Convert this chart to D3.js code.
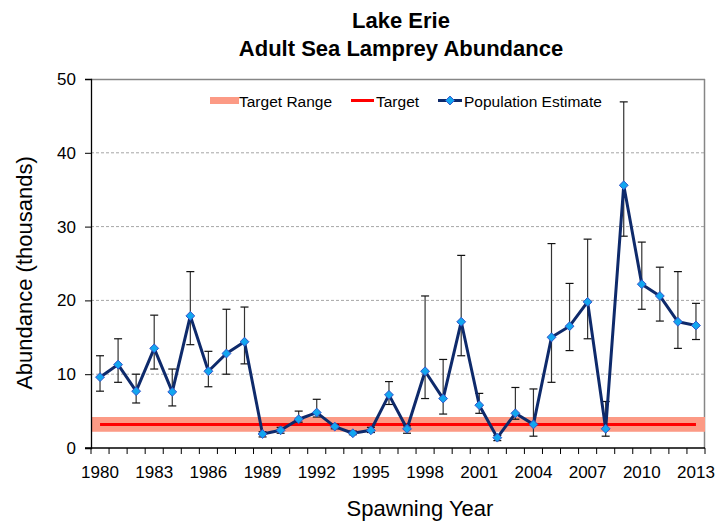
<!DOCTYPE html>
<html>
<head>
<meta charset="utf-8">
<script src="https://cdn.jsdelivr.net/npm/d3@7"></script>
<style>
  html, body { margin: 0; padding: 0; background: #fff; }
  svg { display: block; font-family: "Liberation Sans", Arial, sans-serif; }
</style>
</head>
<body>
<svg id="chart" width="717" height="522"></svg>
<script>
// ---- data ----
const years = [1980,1981,1982,1983,1984,1985,1986,1987,1988,1989,1990,1991,1992,1993,1994,1995,1996,1997,1998,1999,2000,2001,2002,2003,2004,2005,2006,2007,2008,2009,2010,2011,2012,2013];
const estimate = [9.6,11.3,7.7,13.5,7.6,17.9,10.4,12.8,14.4,1.9,2.4,3.9,4.8,2.9,2.0,2.4,7.2,2.6,10.4,6.7,17.1,5.8,1.4,4.7,3.2,15.0,16.5,19.8,2.6,35.6,22.2,20.6,17.1,16.6];
const upper = [12.5,14.8,10.0,18.0,10.7,23.9,13.1,18.8,19.1,2.2,2.8,5.0,6.6,3.2,2.3,2.8,9.0,3.0,20.6,12.0,26.1,7.4,1.7,8.2,8.0,27.7,22.3,28.3,6.3,46.9,27.9,24.5,23.9,19.6];
const lower = [7.7,8.9,6.1,10.7,5.7,14.0,8.3,10.0,11.4,1.5,2.0,3.5,4.2,2.6,1.8,2.1,5.9,2.0,6.7,4.6,12.5,4.7,1.0,3.9,1.6,8.9,13.2,14.8,1.6,28.7,18.8,17.2,13.5,14.7];
const target = 3.2;
const targetRange = [2.2, 4.2];
const yTicks = [0,10,20,30,40,50];
const xTickLabels = [1980,1983,1986,1989,1992,1995,1998,2001,2004,2007,2010,2013];
const titleLines = ["Lake Erie", "Adult Sea Lamprey Abundance"];
const legendItems = ["Target Range", "Target", "Population Estimate"];

// ---- layout ----
const svg = d3.select("#chart");
const L = 91, R = 705, T = 79, B = 448;

const x = d3.scaleBand().domain(years).range([L, R]).paddingInner(0).paddingOuter(0);
const cx = d => x(d) + x.bandwidth() / 2;
const y = d3.scaleLinear().domain([0, 50]).range([B, T]);

// gridlines
svg.append("g").selectAll("line").data(yTicks.filter(v => v > 0 && v < 50)).join("line")
  .attr("x1", L).attr("x2", R).attr("y1", d => y(d)).attr("y2", d => y(d))
  .attr("stroke", "#a6a6a6").attr("stroke-width", 1).attr("stroke-dasharray", "3,2");

// top & right border
svg.append("line").attr("x1", L).attr("x2", R).attr("y1", y(50)+0.5).attr("y2", y(50)+0.5)
  .attr("stroke", "#868686").attr("stroke-width", 1.5);
svg.append("line").attr("x1", R-0.5).attr("x2", R-0.5).attr("y1", T).attr("y2", B)
  .attr("stroke", "#868686").attr("stroke-width", 1.5);

// target range band
svg.append("rect").attr("x", L).attr("width", R - L)
  .attr("y", y(targetRange[1])).attr("height", y(targetRange[0]) - y(targetRange[1]))
  .attr("fill", "#fc9a85");

// target line
svg.append("line").attr("x1", cx(years[0])).attr("x2", cx(years[years.length-1]))
  .attr("y1", y(target)).attr("y2", y(target))
  .attr("stroke", "#ff0000").attr("stroke-width", 3);

// axes
const yAxis = d3.axisLeft(y).tickValues(yTicks).tickSize(6).tickPadding(9).tickFormat(d3.format("d"));
const gy = svg.append("g").attr("transform", `translate(${L},0)`).call(yAxis);
gy.select(".domain").attr("stroke", "#000").attr("stroke-width", 1.3);
gy.selectAll(".tick line").attr("stroke", "#000");
gy.selectAll(".tick text").attr("font-size", 17).attr("fill", "#000")
  .attr("font-family", "Liberation Sans, Arial, sans-serif");

const boundaries = years.map(d => x(d)).concat([R]);
const gx = svg.append("g");
gx.append("line").attr("x1", L - 6).attr("x2", R).attr("y1", B).attr("y2", B)
  .attr("stroke", "#000").attr("stroke-width", 1.3);
gx.selectAll("line.tk").data(boundaries).join("line").attr("class", "tk")
  .attr("x1", d => d).attr("x2", d => d).attr("y1", B).attr("y2", B + 6)
  .attr("stroke", "#000").attr("stroke-width", 1);
gx.selectAll("text").data(xTickLabels).join("text")
  .attr("x", d => cx(d)).attr("y", 478).attr("text-anchor", "middle")
  .attr("font-size", 17).attr("fill", "#000").text(d => d);

// error bars
const eb = svg.append("g").attr("stroke", "#111").attr("stroke-width", 1.2);
years.forEach((yr, i) => {
  const xx = cx(yr);
  eb.append("line").attr("x1", xx).attr("x2", xx).attr("y1", y(upper[i])).attr("y2", y(lower[i])).attr("stroke", "#333");
  eb.append("line").attr("x1", xx-4).attr("x2", xx+4).attr("y1", y(upper[i])).attr("y2", y(upper[i]));
  eb.append("line").attr("x1", xx-4).attr("x2", xx+4).attr("y1", y(lower[i])).attr("y2", y(lower[i]));
});

// series line
const line = d3.line().x((d, i) => cx(years[i])).y(d => y(d));
svg.append("path").datum(estimate).attr("d", line)
  .attr("fill", "none").attr("stroke", "#0e2a6b").attr("stroke-width", 3).attr("stroke-linejoin", "round");

// markers
const diamond = d3.symbol().type(d3.symbolDiamond2).size(50);
svg.append("g").selectAll("path").data(estimate).join("path")
  .attr("d", diamond)
  .attr("transform", (d, i) => `translate(${cx(years[i])},${y(d)})`)
  .attr("fill", "#12a6ef").attr("stroke", "#3355cc").attr("stroke-width", 1);

// legend
const lg = svg.append("g").attr("font-size", 15.5).attr("fill", "#000");
lg.append("rect").attr("x", 210).attr("y", 97).attr("width", 29).attr("height", 7).attr("fill", "#fc9a85");
lg.append("text").attr("x", 239).attr("y", 106.5).text(legendItems[0]);
lg.append("line").attr("x1", 351).attr("x2", 374).attr("y1", 100.5).attr("y2", 100.5).attr("stroke", "#ff0000").attr("stroke-width", 3);
lg.append("text").attr("x", 376).attr("y", 106.5).text(legendItems[1]);
lg.append("line").attr("x1", 438).attr("x2", 462).attr("y1", 100.5).attr("y2", 100.5).attr("stroke", "#0e2a6b").attr("stroke-width", 3);
lg.append("path").attr("d", diamond).attr("transform", "translate(450,100.5)")
  .attr("fill", "#12a6ef").attr("stroke", "#3355cc").attr("stroke-width", 1);
lg.append("text").attr("x", 464).attr("y", 106.5).text(legendItems[2]);

// titles
svg.append("text").attr("x", 401).attr("y", 28).attr("text-anchor", "middle")
  .attr("font-size", 22).attr("font-weight", "bold").text(titleLines[0]);
svg.append("text").attr("x", 401).attr("y", 56).attr("text-anchor", "middle")
  .attr("font-size", 22).attr("font-weight", "bold").text(titleLines[1]);

svg.append("text").attr("transform", "translate(32,273) rotate(-90)").attr("text-anchor", "middle")
  .attr("font-size", 22).text("Abundance (thousands)");
svg.append("text").attr("x", 420).attr("y", 516).attr("text-anchor", "middle")
  .attr("font-size", 22).text("Spawning Year");
</script>
</body>
</html>
